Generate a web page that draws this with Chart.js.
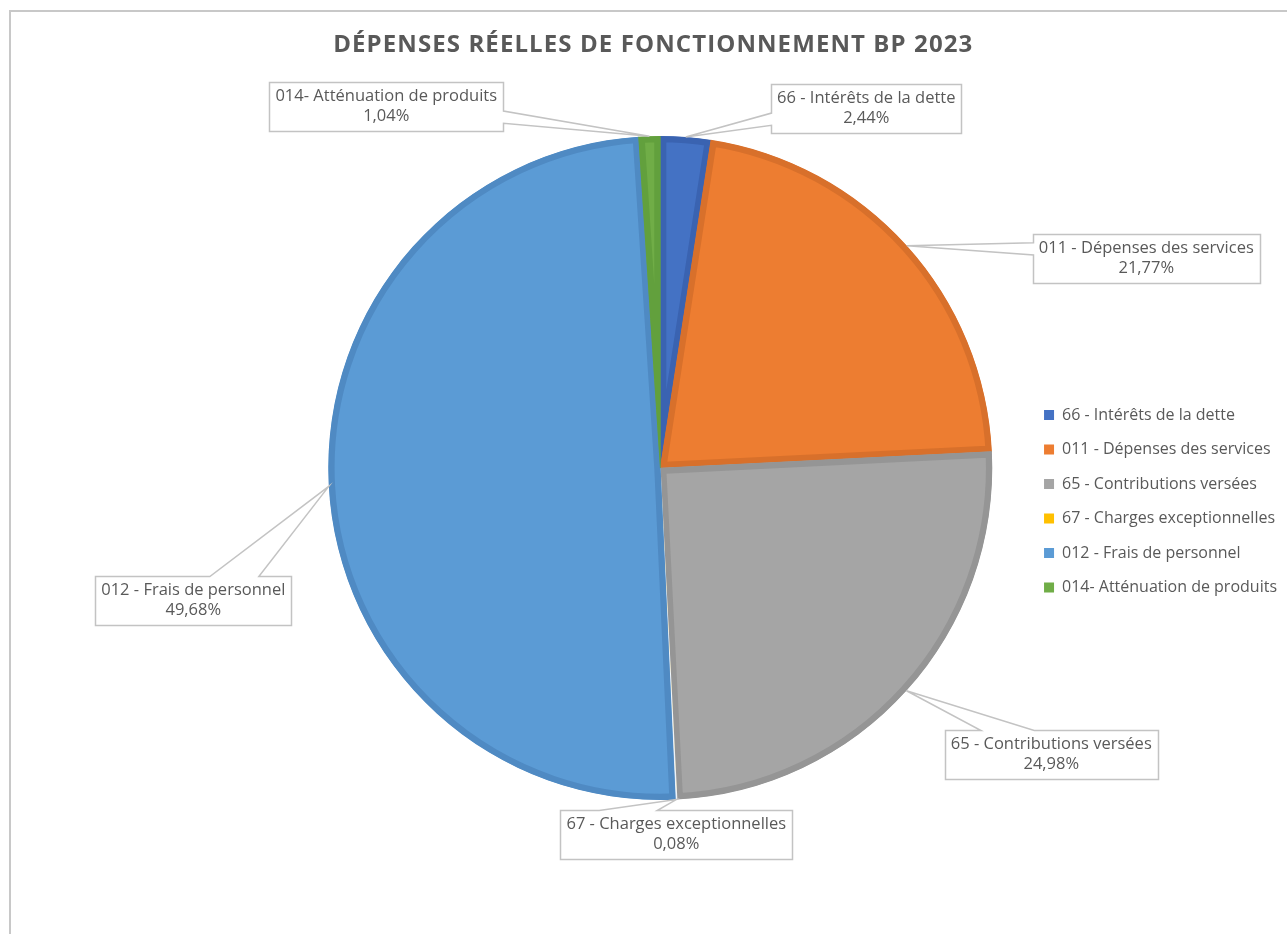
<!DOCTYPE html>
<html>
<head>
<meta charset="utf-8">
<script src="https://cdn.jsdelivr.net/npm/chart.js@4.4.1/dist/chart.umd.min.js"></script>
<style>
html,body{margin:0;padding:0;background:#ffffff;overflow:hidden;}
canvas{display:block;}
</style>
</head>
<body>
<canvas id="c" width="1287" height="934" style="width:1287px;height:934px"></canvas>
<script>
// ---- data ----
const titleText = 'DÉPENSES RÉELLES DE FONCTIONNEMENT BP 2023';
const categories = [
  '66 - Intérêts de la dette',
  '011 - Dépenses des services',
  '65 - Contributions versées',
  '67 - Charges exceptionnelles',
  '012 - Frais de personnel',
  '014- Atténuation de produits'
];
const values = [2.44, 21.77, 24.98, 0.08, 49.68, 1.04];

// ---- styles / layout ----
const fillColors = ['#4472C4', '#ED7D31', '#A5A5A5', '#FFC000', '#5B9BD5', '#70AD47'];
const edgeColors = ['#3A63B1', '#D8702B', '#959595', '#EEF3F8', '#4F8AC3', '#62A03D'];
// callout box centres, relative to the pie centre (px)
const calloutOffsets = [[206, -360], [486, -210], [391, 286], [16, 366], [-467, 132], [-274, -362]];

const textColor = '#595959';
const fontFamily = "'Open Sans', 'Noto Sans', sans-serif";

function fmtPct(v) { return v.toFixed(2).replace('.', ',') + '%'; }

const framePlugin = {
  id: 'frame',
  beforeDraw(chart) {
    const ctx = chart.ctx;
    ctx.save();
    ctx.fillStyle = '#C8C8C8';
    ctx.fillRect(9, 10, chart.width - 9, 2);
    ctx.fillRect(9, 10, 2, chart.height - 10);
    ctx.restore();
    // title letter spacing and small horizontal nudge
    const tb = chart.titleBlock;
    if (tb && !tb._spaced) {
      const orig = tb.draw;
      tb.draw = function (a) {
        const c = this.ctx;
        c.save();
        c.letterSpacing = '1.1px';
        c.translate(-7, 0);
        orig.call(this, a);
        c.restore();
      };
      tb._spaced = true;
    }
  }
};

const calloutPlugin = {
  id: 'callouts',
  afterDatasetsDraw(chart) {
    const ctx = chart.ctx;
    const meta = chart.getDatasetMeta(0);
    ctx.save();
    ctx.font = '16.5px ' + fontFamily;
    meta.data.forEach((arc, i) => {
      const p = arc.getProps(['x', 'y', 'startAngle', 'endAngle', 'outerRadius'], true);
      const mid = (p.startAngle + p.endAngle) / 2;
      const tipX = p.x + Math.cos(mid) * p.outerRadius;
      const tipY = p.y + Math.sin(mid) * p.outerRadius;
      const l1 = categories[i];
      const l2 = fmtPct(values[i]);
      const tw = Math.max(ctx.measureText(l1).width, ctx.measureText(l2).width);
      const w = Math.round(tw + 12);
      const h = 49;
      const cx = p.x + calloutOffsets[i][0];
      const cy = p.y + calloutOffsets[i][1];
      const l = Math.round(cx - w / 2) + 0.5, t = Math.round(cy - h / 2) + 0.5;
      const r = l + w, b = t + h;
      // wedge (Office wedgeRectCallout geometry)
      const dx = tipX - cx, dy = tipY - cy;
      const dz = Math.abs(dy) - Math.abs(dx * h / w);
      const x1 = w * (dx > 0 ? 7 : 2) / 12, x2 = w * (dx > 0 ? 10 : 5) / 12;
      const y1 = h * (dy > 0 ? 7 : 2) / 12, y2 = h * (dy > 0 ? 10 : 5) / 12;
      let side;
      if (dz > 0) side = dy < 0 ? 'top' : 'bottom';
      else side = dx < 0 ? 'left' : 'right';
      ctx.beginPath();
      ctx.moveTo(l, t);
      if (side === 'top') { ctx.lineTo(l + x1, t); ctx.lineTo(tipX, tipY); ctx.lineTo(l + x2, t); }
      ctx.lineTo(r, t);
      if (side === 'right') { ctx.lineTo(r, t + y1); ctx.lineTo(tipX, tipY); ctx.lineTo(r, t + y2); }
      ctx.lineTo(r, b);
      if (side === 'bottom') { ctx.lineTo(l + x2, b); ctx.lineTo(tipX, tipY); ctx.lineTo(l + x1, b); }
      ctx.lineTo(l, b);
      if (side === 'left') { ctx.lineTo(l, t + y2); ctx.lineTo(tipX, tipY); ctx.lineTo(l, t + y1); }
      ctx.closePath();
      ctx.fillStyle = '#FFFFFF';
      ctx.fill();
      ctx.lineWidth = 1.5;
      ctx.strokeStyle = '#C3C3C3';
      ctx.lineJoin = 'miter';
      ctx.stroke();
      ctx.fillStyle = textColor;
      ctx.textAlign = 'center';
      ctx.textBaseline = 'middle';
      ctx.fillText(l1, cx, cy - 10);
      ctx.fillText(l2, cx, cy + 10);
    });
    ctx.restore();
  }
};

function start() {
  Chart.defaults.font.family = fontFamily;
  Chart.defaults.color = textColor;
  const baseGen = (Chart.overrides.doughnut && Chart.overrides.doughnut.plugins.legend.labels.generateLabels);
  new Chart(document.getElementById('c'), {
    type: 'pie',
    data: {
      labels: categories,
      datasets: [{
        data: values,
        backgroundColor: fillColors,
        borderColor: edgeColors,
        borderWidth: 6,
        borderAlign: 'inner',
        hoverOffset: 0
      }]
    },
    options: {
      responsive: false,
      animation: false,
      devicePixelRatio: 1,
      layout: { padding: { left: 295, right: 0, top: 0, bottom: 134 } },
      plugins: {
        tooltip: { enabled: false },
        title: {
          display: true,
          text: titleText,
          fullSize: false,
          color: textColor,
          font: { size: 24, weight: 'bold', family: fontFamily },
          padding: { top: 30.6, bottom: 76.6 }
        },
        legend: {
          position: 'right',
          align: 'center',
          title: { display: true, text: ' ', font: { size: 10 }, padding: { top: 190.5, bottom: 0 } },
          labels: {
            boxWidth: 10,
            boxHeight: 10,
            padding: 18.5,
            color: textColor,
            font: { size: 16, family: fontFamily },
            generateLabels(chart) {
              const items = baseGen(chart);
              return items.map(it => Object.assign(it, { lineWidth: 0, strokeStyle: 'rgba(0,0,0,0)' }));
            }
          }
        }
      }
    },
    plugins: [framePlugin, calloutPlugin]
  });
}

Promise.all([
  document.fonts.load("16px 'Open Sans'"),
  document.fonts.load("bold 24px 'Open Sans'")
]).then(start, start);
</script>
</body>
</html>
